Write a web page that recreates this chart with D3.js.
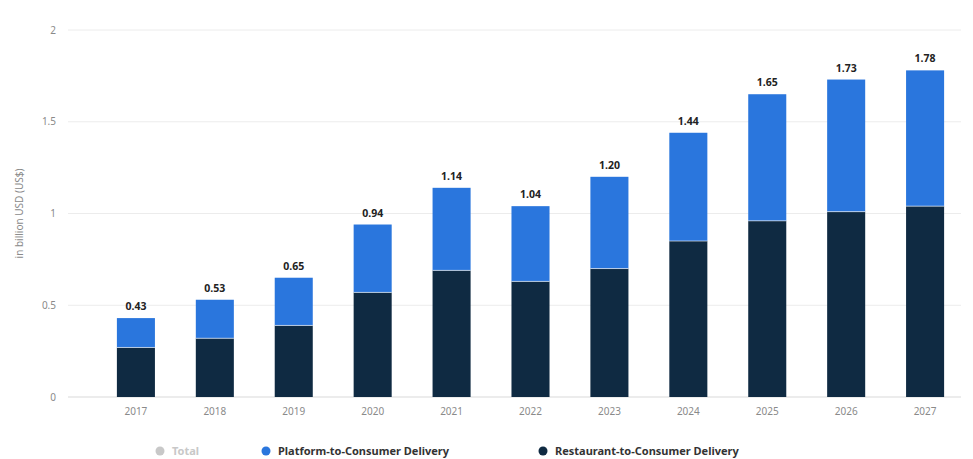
<!DOCTYPE html>
<html>
<head>
<meta charset="utf-8">
<script src="https://cdn.jsdelivr.net/npm/d3@7"></script>
<style>
  body { margin: 0; background: #fff; }
  text { font-family: "Noto Sans", "DejaVu Sans", sans-serif; }
</style>
</head>
<body>
<script>
// chart data
const years = ["2017", "2018", "2019", "2020", "2021", "2022", "2023", "2024", "2025", "2026", "2027"];
const restaurant = [0.27, 0.32, 0.39, 0.57, 0.69, 0.63, 0.70, 0.85, 0.96, 1.01, 1.04];
const platform = [0.16, 0.21, 0.26, 0.37, 0.45, 0.41, 0.50, 0.59, 0.69, 0.72, 0.74];
const totals = ["0.43", "0.53", "0.65", "0.94", "1.14", "1.04", "1.20", "1.44", "1.65", "1.73", "1.78"];
const yTicks = [0, 0.5, 1, 1.5, 2];
const legendLabels = ["Total", "Platform-to-Consumer Delivery", "Restaurant-to-Consumer Delivery"];

const width = 973, height = 459;
const margin = { top: 30, right: 12, bottom: 62, left: 68 };

const svg = d3.select("body")
    .append("svg")
    .attr("width", width)
    .attr("height", height);

const x = d3.scaleBand()
    .domain(years)
    .range([109, 952])
    .paddingInner(0.518)
    .paddingOuter(0.1);

const y = d3.scaleLinear()
    .domain([0, 2])
    .range([height - margin.bottom, margin.top]);

// gridlines
svg.append("g")
    .selectAll("line")
    .data(yTicks)
    .enter()
    .append("line")
    .attr("x1", margin.left)
    .attr("x2", width - margin.right)
    .attr("y1", d => y(d))
    .attr("y2", d => y(d))
    .attr("stroke", d => d === 0 ? "#d9d9d9" : "#ececec")
    .attr("stroke-width", 1);

// y tick labels
svg.append("g")
    .selectAll("text")
    .data(yTicks)
    .enter()
    .append("text")
    .attr("x", 56)
    .attr("y", d => y(d) + 3.5)
    .attr("text-anchor", "end")
    .attr("font-size", 10)
    .attr("fill", "#8a8a8a")
    .text(d => d);

// y title
svg.append("text")
    .attr("transform", `translate(23, ${y(1)}) rotate(-90)`)
    .attr("text-anchor", "middle")
    .attr("font-size", 10)
    .attr("fill", "#8a8a8a")
    .text("in billion USD (US$)");

// stacked bars
const rows = years.map((yr, i) => ({ year: yr, restaurant: restaurant[i], platform: platform[i] }));
const stack = d3.stack().keys(["restaurant", "platform"])(rows);
const colors = { restaurant: "#0f2a42", platform: "#2a76dd" };

svg.append("g")
    .selectAll("g")
    .data(stack)
    .enter()
    .append("g")
    .attr("fill", d => colors[d.key])
    .selectAll("rect")
    .data(d => d)
    .enter()
    .append("rect")
    .attr("x", d => x(d.data.year))
    .attr("width", x.bandwidth())
    .attr("y", d => y(d[1]))
    .attr("height", d => y(d[0]) - y(d[1]));

// thin separators between the stacked segments
svg.append("g")
    .selectAll("line")
    .data(rows)
    .enter()
    .append("line")
    .attr("x1", d => x(d.year))
    .attr("x2", d => x(d.year) + x.bandwidth())
    .attr("y1", d => y(d.restaurant))
    .attr("y2", d => y(d.restaurant))
    .attr("stroke", "#ffffff")
    .attr("stroke-opacity", 0.6)
    .attr("stroke-width", 1);

// total labels
svg.append("g")
    .selectAll("text")
    .data(rows)
    .enter()
    .append("text")
    .attr("x", d => x(d.year) + x.bandwidth() / 2)
    .attr("y", (d, i) => y(+totals[i]) - 8)
    .attr("text-anchor", "middle")
    .attr("font-size", 10.5)
    .attr("font-weight", "bold")
    .attr("fill", "#222")
    .text((d, i) => totals[i]);

// x tick labels
svg.append("g")
    .selectAll("text")
    .data(years)
    .enter()
    .append("text")
    .attr("x", d => x(d) + x.bandwidth() / 2)
    .attr("y", y(0) + 18)
    .attr("text-anchor", "middle")
    .attr("font-size", 10)
    .attr("fill", "#8a8a8a")
    .text(d => d);

// legend
const legendX = [160, 266, 543];
const legendColor = ["#c8c8c8", "#2a76dd", "#0f2a42"];
const legend = svg.append("g")
    .selectAll("g")
    .data(legendLabels)
    .enter()
    .append("g")
    .attr("transform", (d, i) => `translate(${legendX[i]}, 451)`);

legend.append("circle")
    .attr("r", 4.5)
    .attr("fill", (d, i) => legendColor[i]);

legend.append("text")
    .attr("x", 12)
    .attr("y", 4)
    .attr("font-size", 11)
    .attr("font-weight", "bold")
    .attr("fill", (d, i) => i === 0 ? "#c8c8c8" : "#333")
    .text(d => d);
</script>
</body>
</html>
